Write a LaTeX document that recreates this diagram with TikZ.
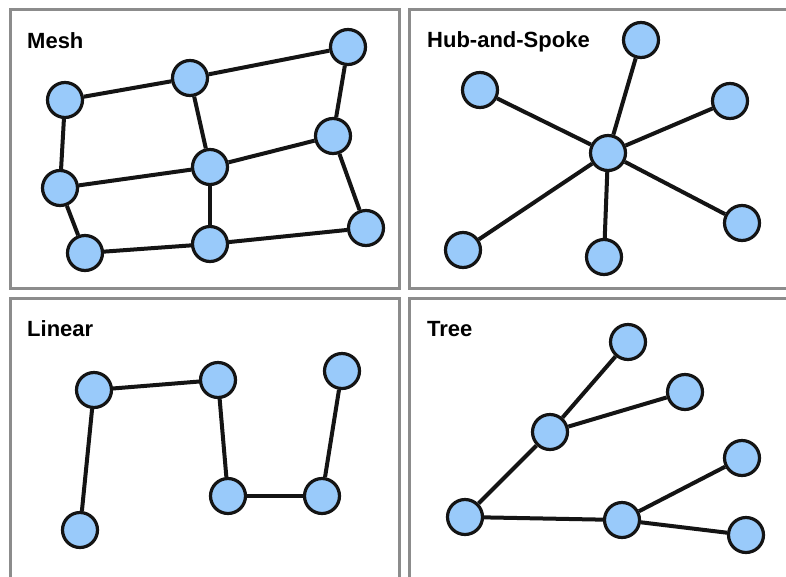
\documentclass[tikz,border=0pt]{standalone}
\usepackage{fontspec}
\setmainfont{Liberation Sans}
\definecolor{nodeblue}{RGB}{153,202,250}
\definecolor{panelgray}{RGB}{140,140,140}
\definecolor{edgeblack}{RGB}{20,20,20}
\begin{document}
\begin{tikzpicture}[x=1pt,y=-1pt,
  dot/.style={circle,draw=edgeblack,line width=3.2pt,fill=nodeblue,minimum size=35pt,inner sep=0pt},
  link/.style={draw=edgeblack,line width=4pt},
  panel/.style={draw=panelgray,line width=3pt},
  title/.style={anchor=base west,font=\fontsize{22}{26}\selectfont\bfseries,text=black,inner sep=0pt}]
\useasboundingbox (0,0) rectangle (786,576);
\clip (0,0) rectangle (786,576);
\fill[white] (0,0) rectangle (786,576);
% panels
\draw[panel] (10,9) rectangle (399,288);
\draw[panel] (409,9) rectangle (800,288);
\draw[panel] (10,298) rectangle (399,600);
\draw[panel] (409,298) rectangle (800,600);
% titles
\node[title] (tmesh) at (27,48) {Mesh};
\node[title] (thub) at (427,47) {Hub-and-Spoke};
\node[title] (tlin) at (27,336) {Linear};
\node[title] (ttree) at (427,336) {Tree};
% Mesh
\node[dot] (ma) at (65,100) {};
\node[dot] (mb) at (190,78) {};
\node[dot] (mc) at (348,47) {};
\node[dot] (md) at (60,188) {};
\node[dot] (me) at (210,167) {};
\node[dot] (mf) at (333,136) {};
\node[dot] (mg) at (85,253) {};
\node[dot] (mh) at (210,244) {};
\node[dot] (mi) at (366,228) {};
% Hub
\node[dot] (hc) at (608,153) {};
\node[dot] (h1) at (480,90) {};
\node[dot] (h2) at (641,40) {};
\node[dot] (h3) at (730,101) {};
\node[dot] (h4) at (742,223) {};
\node[dot] (h5) at (604,257) {};
\node[dot] (h6) at (463,250) {};
% Linear
\node[dot] (l1) at (80,530) {};
\node[dot] (l2) at (94,390) {};
\node[dot] (l3) at (218,380) {};
\node[dot] (l4) at (228,496) {};
\node[dot] (l5) at (322,496) {};
\node[dot] (l6) at (342,371) {};
% Tree
\node[dot] (t0) at (465,517) {};
\node[dot] (t1) at (550,432) {};
\node[dot] (t2) at (628,342) {};
\node[dot] (t3) at (685,392) {};
\node[dot] (t4) at (622,520) {};
\node[dot] (t5) at (742,458) {};
\node[dot] (t6) at (746,535) {};
% edges
\foreach \a/\b in {ma/mb,mb/mc,ma/md,mb/me,mc/mf,md/me,me/mf,md/mg,me/mh,mf/mi,mg/mh,mh/mi,
  hc/h1,hc/h2,hc/h3,hc/h4,hc/h5,hc/h6,
  l1/l2,l2/l3,l3/l4,l4/l5,l5/l6,
  t0/t1,t1/t2,t1/t3,t0/t4,t4/t5,t4/t6}
  \draw[link] (\a) -- (\b);
\end{tikzpicture}
\end{document}
